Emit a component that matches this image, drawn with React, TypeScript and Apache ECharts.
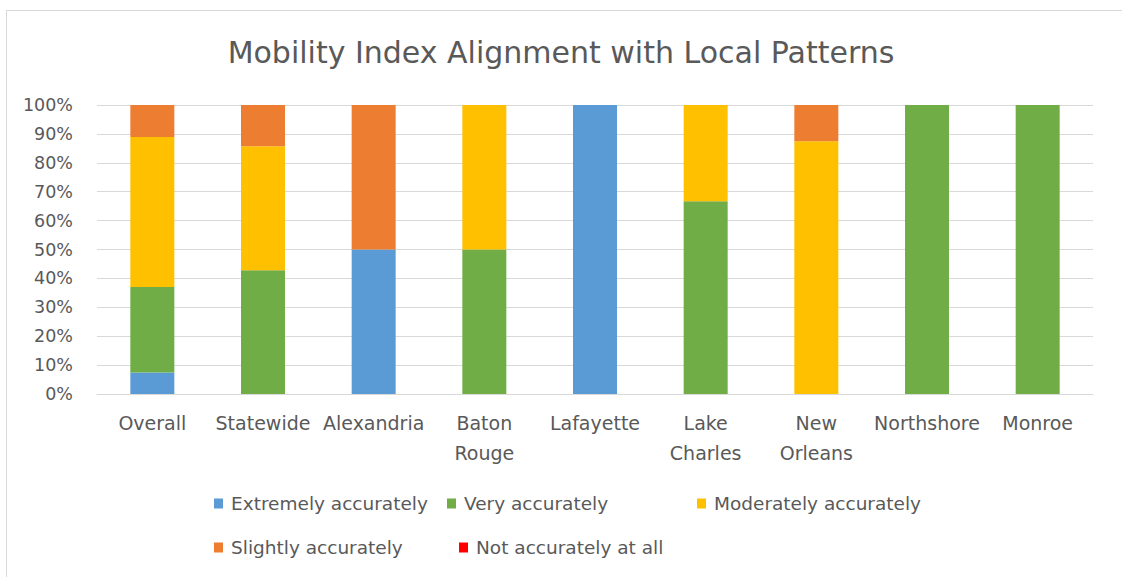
import React, { useEffect, useRef } from "react";
import * as echarts from "echarts";

const categories = ["Overall", "Statewide", "Alexandria", "Baton\nRouge", "Lafayette", "Lake\nCharles", "New\nOrleans", "Northshore", "Monroe"];
const seriesNames = ["Extremely accurately", "Very accurately", "Moderately accurately", "Slightly accurately", "Not accurately at all"];
const extremely = [0.074, 0, 0.5, 0, 1, 0, 0, 0, 0];
const very = [0.296, 0.4286, 0, 0.5, 0, 0.6667, 0, 1, 1];
const moderately = [0.519, 0.4286, 0, 0.5, 0, 0.3333, 0.875, 0, 0];
const slightly = [0.111, 0.1428, 0.5, 0, 0, 0, 0.125, 0, 0];
const notAtAll = [0, 0, 0, 0, 0, 0, 0, 0, 0];
const colors = ["#5B9BD5", "#70AD47", "#FFC000", "#ED7D31", "#FF0000"];
const yTicks = [0, 0.1, 0.2, 0.3, 0.4, 0.5, 0.6, 0.7, 0.8, 0.9, 1];

const FONT = "DejaVu Sans";
const TXT = "#595959";

export default function App() {
  const ref = useRef<HTMLDivElement>(null);
  useEffect(() => {
    document.body.style.margin = "0";
    const chart = echarts.init(ref.current!, null, { renderer: "svg" });
    const values = [extremely, very, moderately, slightly, notAtAll];
    const legendPos = [
      { left: 209, top: 489 },
      { left: 442, top: 489 },
      { left: 692, top: 489 },
      { left: 209, top: 533 },
      { left: 454, top: 533 },
    ];
    chart.setOption({
      animation: false,
      textStyle: { fontFamily: FONT },
      title: {
        text: "Mobility Index Alignment with Local Patterns",
        left: "center",
        top: 32,
        textStyle: { fontFamily: FONT, fontSize: 30, fontWeight: "normal", color: TXT },
      },
      legend: seriesNames.map((n, i) => ({
        data: [n],
        left: legendPos[i].left,
        top: legendPos[i].top,
        icon: "rect",
        itemWidth: 9,
        itemHeight: 10,
        selectedMode: false,
        textStyle: { fontFamily: FONT, fontSize: 18.5, color: TXT, padding: [0, 0, 0, 3] },
      })),
      grid: { left: 97, right: 29, top: 105, bottom: 183, containLabel: false },
      xAxis: {
        type: "category",
        data: categories,
        axisLine: { lineStyle: { color: "#d9d9d9", width: 1 } },
        axisTick: { show: false },
        axisLabel: { fontFamily: FONT, fontSize: 19, color: TXT, lineHeight: 30, margin: 14, interval: 0 },
      },
      yAxis: {
        type: "value",
        min: 0,
        max: 1,
        interval: 0.1,
        axisLine: { show: false },
        axisTick: { show: false },
        splitLine: { lineStyle: { color: "#d9d9d9", width: 1 } },
        axisLabel: {
          fontFamily: FONT,
          fontSize: 17.5,
          color: TXT,
          margin: 24,
          formatter: (v: number) => {
            const t = yTicks.find((x) => Math.abs(x - v) < 1e-6);
            return t === undefined ? "" : Math.round(t * 100) + "%";
          },
        },
      },
      series: seriesNames.map((n, i) => ({
        name: n,
        type: "bar",
        stack: "total",
        barWidth: 44,
        itemStyle: { color: colors[i] },
        data: values[i],
      })),
      graphic: [
        { type: "line", shape: { x1: 6, y1: 10.5, x2: 1122, y2: 10.5 }, style: { stroke: "#d9d9d9", lineWidth: 1 } },
        { type: "line", shape: { x1: 6.5, y1: 10, x2: 6.5, y2: 577 }, style: { stroke: "#d9d9d9", lineWidth: 1 } },
      ],
    });
    return () => chart.dispose();
  }, []);
  return <div ref={ref} style={{ width: 1122, height: 577 }} />;
}
